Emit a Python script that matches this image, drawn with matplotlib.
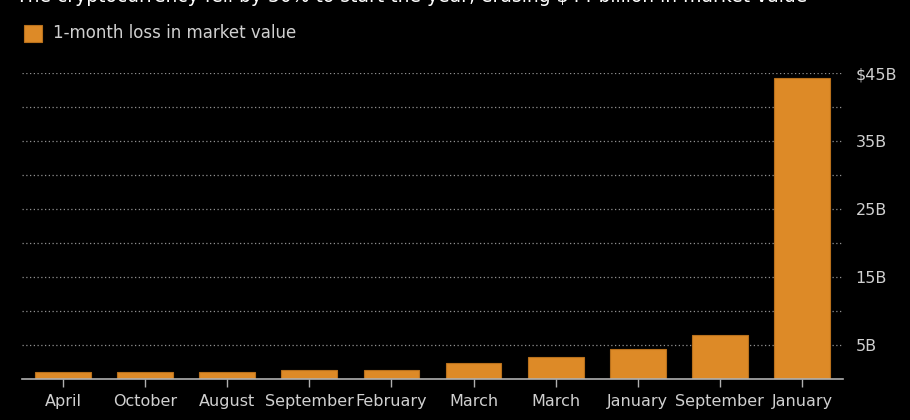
import numpy as np
import matplotlib
matplotlib.use("Agg")
import matplotlib.pyplot as plt
from matplotlib.patches import Rectangle

# one-month market value losses, in billions of dollars
months = ["April", "October", "August", "September", "February",
          "March", "March", "January", "September", "January"]
losses = [1.1, 1.1, 1.1, 1.3, 1.3, 2.4, 3.3, 4.4, 6.4, 44.3]

grid_vals = [5, 10, 15, 20, 25, 30, 35, 40, 45]
tick_vals = [5, 15, 25, 35, 45]
tick_text = ["5B", "15B", "25B", "35B", "$45B"]

title = "The cryptocurrency fell by 30% to start the year, erasing $44 billion in market value"
legend_label = "1-month loss in market value"

orange = "#dd8a27"
edge = "#b8701c"
txt = "#d0d0d0"

plt.rcParams['font.family'] = ['DejaVu Sans']

fig = plt.figure(figsize=(9.1, 4.2), dpi=100, facecolor="black")
ax = fig.add_axes([22/910, 41/420, (843-22)/910, (379-73)/420])
ax.set_facecolor("black")

x = np.arange(len(months))
ax.bar(x, losses, width=0.68, color=orange, edgecolor=edge, linewidth=0.8, zorder=3)

for g in grid_vals:
    ax.axhline(g, color="#909090", linestyle=(0, (1, 2)), linewidth=0.9, zorder=1)

ax.set_xlim(-0.5, len(months) - 0.5)
ax.set_ylim(0, 45)
ax.set_xticks(x)
ax.set_xticklabels(months, fontsize=11.5, color=txt)
ax.tick_params(axis="x", length=6, width=1, color="#b0b0b0", pad=5)

ax.yaxis.tick_right()
ax.set_yticks(tick_vals)
ax.set_yticklabels(tick_text, fontsize=11.5, color=txt)
ax.tick_params(axis="y", length=0, pad=9)

for s in ["top", "left", "right"]:
    ax.spines[s].set_visible(False)
ax.spines["bottom"].set_color("#b0b0b0")
ax.spines["bottom"].set_linewidth(1.2)
ax.spines["bottom"].set_zorder(4)

# title, cut off at the top like the source
fig.text(16/910, 1 + 3/420, title, fontsize=13.5, color="white", ha="left", va="center")

# legend
fig.patches.append(Rectangle((24/910, 1 - 42/420), 18/910, 17/420, transform=fig.transFigure,
                             facecolor=orange, edgecolor=edge, linewidth=0.8))
fig.text(53/910, 1 - 33/420, legend_label, fontsize=12, color=txt, ha="left", va="center")

fig.savefig("out.png", dpi=100, facecolor="black")
